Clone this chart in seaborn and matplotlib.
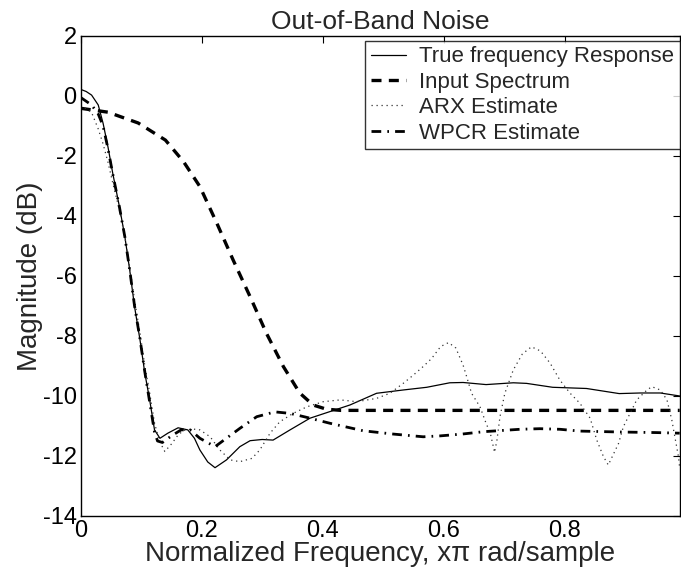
import numpy as np
import pandas as pd
import matplotlib
matplotlib.use("Agg")
import matplotlib.pyplot as plt
import seaborn as sns

# ---- data ----
true_x = [0, 0.009, 0.018, 0.029, 0.037, 0.045, 0.053, 0.064, 0.073, 0.081, 0.089, 0.098, 0.106,
          0.114, 0.122, 0.131, 0.144, 0.161, 0.177, 0.188, 0.197, 0.210, 0.222, 0.241, 0.263,
          0.28, 0.30, 0.318, 0.346, 0.379, 0.412, 0.445, 0.489, 0.533, 0.572, 0.61, 0.632,
          0.67, 0.715, 0.737, 0.78, 0.836, 0.89, 0.925, 0.958, 0.99]
true_y = [0.22, 0.15, 0.03, -0.3, -0.91, -1.69, -2.58, -3.69, -4.69, -5.8, -7.02, -8.13, -9.24,
          -10.13, -11.13, -11.41, -11.24, -11.06, -11.13, -11.41, -11.8, -12.2, -12.39, -12.13,
          -11.69, -11.49, -11.45, -11.47, -11.13, -10.74, -10.52, -10.3, -9.91, -9.8, -9.71,
          -9.56, -9.55, -9.62, -9.56, -9.58, -9.71, -9.75, -9.92, -9.9, -9.9, -10.0]

input_x = [0, 0.045, 0.095, 0.14, 0.17, 0.197, 0.225, 0.252, 0.28, 0.307, 0.335, 0.362,
           0.384, 0.406, 0.43, 0.5, 0.6, 0.7, 0.8, 0.9, 0.99]
input_y = [-0.41, -0.54, -0.9, -1.47, -2.19, -3.02, -4.24, -5.47, -6.69, -7.91, -9.02, -9.9,
           -10.3, -10.44, -10.48, -10.48, -10.48, -10.48, -10.48, -10.48, -10.48]

arx_x = [0, 0.018, 0.029, 0.037, 0.045, 0.053, 0.064, 0.073, 0.081, 0.089, 0.098, 0.106, 0.114,
         0.122, 0.13, 0.139, 0.15, 0.161, 0.17, 0.185, 0.197, 0.214, 0.23, 0.247, 0.263, 0.283,
         0.296, 0.313, 0.329, 0.351, 0.374, 0.401, 0.429, 0.456, 0.489, 0.511, 0.533, 0.55,
         0.566, 0.58, 0.595, 0.608, 0.62, 0.632, 0.638, 0.646, 0.66, 0.67, 0.677, 0.682, 0.684,
         0.688, 0.693, 0.701, 0.71, 0.715, 0.73, 0.745, 0.76, 0.776, 0.792, 0.809, 0.825, 0.842,
         0.853, 0.864, 0.872, 0.889, 0.897, 0.908, 0.919, 0.936, 0.944, 0.958, 0.969, 0.977,
         0.982, 0.988, 0.99]
arx_y = [-0.3, -0.55, -1.1, -1.6, -2.2, -2.9, -3.8, -4.7, -5.7, -6.8, -7.9, -9.0, -9.9,
         -10.9, -11.5, -11.85, -11.6, -11.3, -11.15, -11.1, -11.13, -11.36, -11.8, -12.13, -12.19,
         -12.08, -11.8, -11.24, -10.86, -10.58, -10.36, -10.19, -10.13, -10.19, -10.08, -9.91,
         -9.58, -9.3, -9.02, -8.75, -8.35, -8.22, -8.4, -8.97, -9.36, -9.91, -10.36, -10.91,
         -11.24, -11.69, -11.88, -11.47, -10.69, -9.91, -9.41, -9.13, -8.6, -8.36, -8.5, -8.91,
         -9.47, -9.91, -10.24, -10.74, -11.47, -12.02, -12.3, -11.58, -11.02, -10.58, -10.13,
         -9.8, -9.69, -9.8, -10.13, -10.8, -11.36, -12.02, -12.4]

wpcr_x = [0, 0.018, 0.029, 0.037, 0.045, 0.053, 0.064, 0.073, 0.081, 0.089, 0.098, 0.106, 0.114,
          0.122, 0.127, 0.135, 0.15, 0.166, 0.181, 0.197, 0.222, 0.263, 0.291, 0.321, 0.346,
          0.373, 0.412, 0.467, 0.517, 0.566, 0.594, 0.63, 0.666, 0.726, 0.759, 0.792, 0.825,
          0.89, 0.952, 0.99]
wpcr_y = [-0.05, -0.3, -0.6, -1.0, -1.75, -2.6, -3.7, -4.7, -5.8, -7.0, -8.1, -9.2, -10.2,
          -11.2, -11.5, -11.55, -11.33, -11.13, -11.13, -11.41, -11.69, -11.08, -10.69, -10.53,
          -10.58, -10.71, -10.91, -11.16, -11.27, -11.36, -11.33, -11.27, -11.19, -11.11, -11.09,
          -11.11, -11.17, -11.2, -11.22, -11.24]

labels = ["True frequency Response", "Input Spectrum", "ARX Estimate", "WPCR Estimate"]
yticks = [-14, -12, -10, -8, -6, -4, -2, 0, 2]
xticks = [0, 0.2, 0.4, 0.6, 0.8]
xticklabels = ["0", "0.2", "0.4", "0.6", "0.8"]

# ---- plotting ----
sns.set_style("white")
plt.rcParams["font.family"] = ["Liberation Sans", "DejaVu Sans"]
plt.rcParams["axes.unicode_minus"] = False

fig = plt.figure(figsize=(6.81, 5.73), dpi=100)
ax = fig.add_axes([0.1185, 0.0995, 0.880, 0.8377])

styles = [
    dict(color="black", linewidth=0.9, linestyle="-"),
    dict(color="black", linewidth=2.4, linestyle=(0, (3.0, 2.2))),
    dict(color="#333333", linewidth=0.9, linestyle=(0, (1, 3))),
    dict(color="black", linewidth=2.0, linestyle=(0, (3.5, 2.2, 0.6, 2.2))),
]
series = [(true_x, true_y), (input_x, input_y), (arx_x, arx_y), (wpcr_x, wpcr_y)]
for (xs, ys), lab, st in zip(series, labels, styles):
    df = pd.DataFrame({"x": xs, "y": ys})
    sns.lineplot(data=df, x="x", y="y", ax=ax, sort=False, estimator=None,
                 label=lab, **st)

ax.set_xlim(0, 0.9905)
ax.set_ylim(-14, 2)
ax.set_xticks(xticks)
ax.set_xticklabels(xticklabels)
ax.set_yticks(yticks)
ax.tick_params(direction="in", length=5, width=0.8, labelsize=17, top=True, right=True,
               colors="black", pad=3)
for sp in ax.spines.values():
    sp.set_color("black")
    sp.set_linewidth(1.0)

ax.set_title("Out-of-Band Noise", fontsize=19, pad=5)
ax.set_xlabel("Normalized Frequency, x\u03c0 rad/sample", fontsize=20, labelpad=-1)
ax.set_ylabel("Magnitude (dB)", fontsize=20, labelpad=0)

leg = ax.legend(loc="upper right", bbox_to_anchor=(1.0, 0.99), borderaxespad=0,
                fontsize=16, frameon=True, fancybox=False, handlelength=1.6,
                handletextpad=0.6, labelspacing=0.2, borderpad=0.25)
leg.get_frame().set_edgecolor("black")
leg.get_frame().set_linewidth(1.0)

fig.savefig("out.png", dpi=100)
